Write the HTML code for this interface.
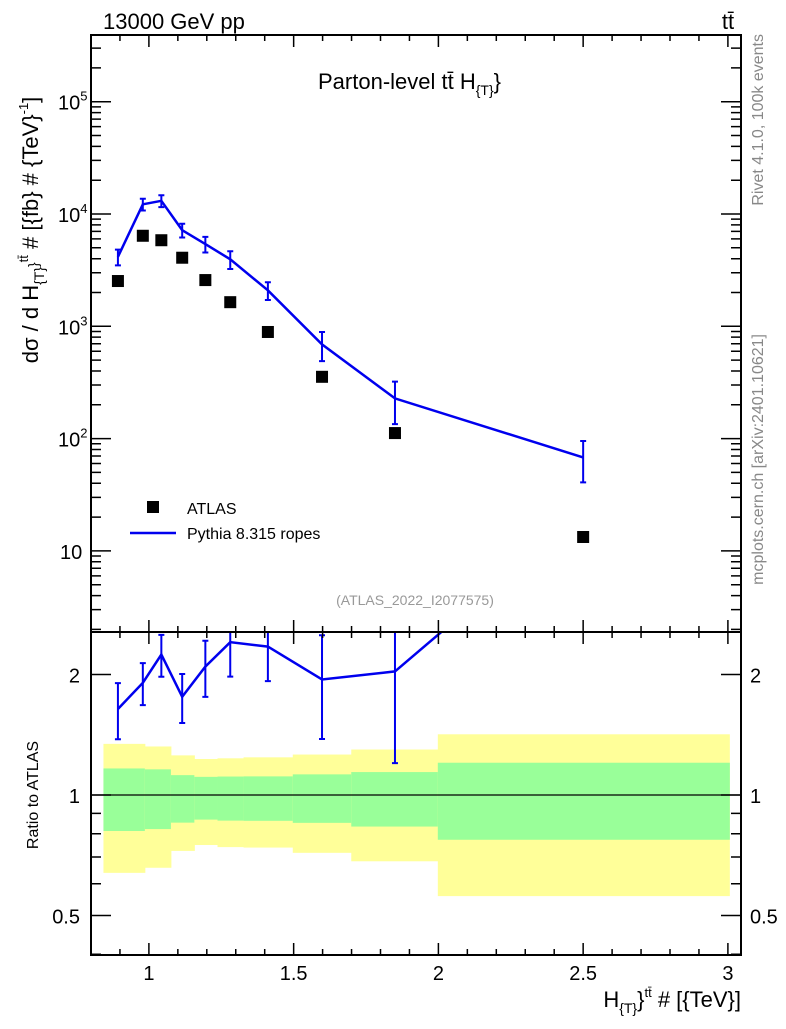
<!DOCTYPE html>
<html><head><meta charset="utf-8"><style>
html,body{margin:0;padding:0;background:#fff;}
svg text{font-family:"Liberation Sans",sans-serif;}
</style></head><body>
<svg id="c" width="786" height="1024" viewBox="0 0 786 1024" xmlns="http://www.w3.org/2000/svg"></svg>
<script>
// ---- data ----
const xPts = [0.893,0.979,1.043,1.115,1.195,1.281,1.411,1.598,1.85,2.5];
const atlasVals = [2530,6400,5840,4080,2580,1640,890,355,112,13.3];
const pythiaVals = [4150,12200,13100,7180,5400,3950,2090,690,228,68];
const pythiaRelErr = [0.16,0.12,0.12,0.14,0.16,0.18,0.18,0.29,0.41,0.40];
const bandEdges = [0.843,0.986,1.076,1.157,1.237,1.327,1.497,1.699,1.998,3.005];
const yellowUp = [1.342,1.322,1.256,1.23,1.235,1.242,1.262,1.299,1.418];
const greenUp = [1.165,1.159,1.121,1.11,1.112,1.113,1.126,1.141,1.204];
const greenLo = [0.813,0.822,0.853,0.868,0.863,0.862,0.852,0.834,0.773];
const yellowLo = [0.639,0.658,0.725,0.75,0.741,0.739,0.717,0.683,0.559];
const xTickLabels = ["1","1.5","2","2.5","3"];
const xTickVals = [1,1.5,2,2.5,3];

// ---- geometry ----
const L=91,R=741,T=35,M=632,B=955;
const X=v=>L+(v-0.8)*289.5;
const Y=v=>214-(Math.log10(v)-4)*112.3;
const RY=v=>795-Math.log2(v)*120.5;
const svg=document.getElementById('c');
const NS='http://www.w3.org/2000/svg';
function mk(tag,attrs,parent){const e=document.createElementNS(NS,tag);for(const k in attrs)e.setAttribute(k,attrs[k]);(parent||svg).appendChild(e);return e;}

const defs=mk('defs',{});
const c1=mk('clipPath',{id:'cm'},defs);mk('rect',{x:L,y:T,width:R-L,height:M-T},c1);
const c2=mk('clipPath',{id:'cr'},defs);mk('rect',{x:L,y:M,width:R-L,height:B-M},c2);

const gb=mk('g',{'clip-path':'url(#cr)'});

for(let i=0;i<yellowUp.length;i++){
  const x0=X(bandEdges[i]),x1=X(bandEdges[i+1]);
  const y=mk('rect',{x:x0,y:RY(yellowUp[i]),width:x1-x0+0.5,height:RY(yellowLo[i])-RY(yellowUp[i]),fill:'#ffff99'},gb);
  
  const g=mk('rect',{x:x0,y:RY(greenUp[i]),width:x1-x0+0.5,height:RY(greenLo[i])-RY(greenUp[i]),fill:'#99ff99'},gb);
  
}
const one=mk('line',{x1:L,x2:R,y1:RY(1),y2:RY(1),stroke:'#000','stroke-width':1.2});


const gm=mk('g',{'clip-path':'url(#cm)'});

let pts=xPts.map((x,i)=>X(x)+','+Y(pythiaVals[i])).join(' ');
const pl=mk('polyline',{points:pts,fill:'none',stroke:'#0000ee','stroke-width':2.5},gm);

xPts.forEach((x,i)=>{
  const v=pythiaVals[i],e=pythiaRelErr[i],cx=X(x);
  const y1=Y(v*(1+e)),y2=Y(v*(1-e));
  const eb=mk('path',{d:`M${cx},${y1}V${y2}M${cx-3},${y1}H${cx+3}M${cx-3},${y2}H${cx+3}`,stroke:'#0000ee','stroke-width':2,fill:'none'},gm);
  
  const s=mk('rect',{x:cx-6,y:Y(atlasVals[i])-6,width:12,height:12,fill:'#000'},gm);
  
});

const gr=mk('g',{'clip-path':'url(#cr)'});

pts=xPts.map((x,i)=>X(x)+','+RY(pythiaVals[i]/atlasVals[i])).join(' ');
const rl=mk('polyline',{points:pts,fill:'none',stroke:'#0000ee','stroke-width':2.5},gr);

xPts.forEach((x,i)=>{
  const r=pythiaVals[i]/atlasVals[i],e=pythiaRelErr[i],cx=X(x);
  const y1=RY(r*(1+e)),y2=RY(r*(1-e));
  const eb=mk('path',{d:`M${cx},${y1}V${y2}M${cx-3},${y1}H${cx+3}M${cx-3},${y2}H${cx+3}`,stroke:'#0000ee','stroke-width':2,fill:'none'},gr);
  
});

const f1=mk('rect',{x:L,y:T,width:R-L,height:M-T,fill:'none',stroke:'#000','stroke-width':2});

const f2=mk('rect',{x:L,y:M,width:R-L,height:B-M,fill:'none',stroke:'#000','stroke-width':2});


let d='';
for(let v=0.8;v<=3.04;v+=0.1){const vv=Math.round(v*10)/10;const x=X(vv);const maj=Math.abs(vv*2-Math.round(vv*2))<1e-6;const l=maj?12:6;
  d+=`M${x},${T}v${l}M${x},${M}v-${l}M${x},${M}v${l}M${x},${B}v-${l}`;}
for(let e=0;e<6;e++)for(let k=1;k<10;k++){const v=k*Math.pow(10,e);const y=Y(v);if(y<T||y>M)continue;const l=k==1?20:10;d+=`M${L},${y}h${l}M${R},${y}h-${l}`;}
for(let e=-2;e<1;e++)for(let k=1;k<10;k++){const v=k*Math.pow(10,e);const y=RY(v);if(y<M||y>B)continue;const l=(v==1||v==0.5||v==2)?20:10;const l2=(k==1)?20:l;d+=`M${L},${y}h${l2}M${R},${y}h-${l2}`;}
const tk=mk('path',{d:d,stroke:'#000','stroke-width':1.5,fill:'none'});


function txt(s,attrs,name){const t=mk('text',attrs);t.innerHTML=s;return t;}
xTickVals.forEach((v,i)=>txt(xTickLabels[i],{x:X(v),y:980,'font-size':20,'text-anchor':'middle'},'x-tick-label'));
[[5,'10<tspan font-size="13" dy="-9">5</tspan>'],[4,'10<tspan font-size="13" dy="-9">4</tspan>'],[3,'10<tspan font-size="13" dy="-9">3</tspan>'],[2,'10<tspan font-size="13" dy="-9">2</tspan>']].forEach(a=>txt(a[1],{x:58,y:Y(Math.pow(10,a[0]))+8,'font-size':20},'y-tick-label'));
txt('10',{x:60,y:Y(10)+8,'font-size':20},'y-tick-label');
[[2,'2'],[1,'1'],[0.5,'0.5']].forEach(a=>{txt(a[1],{x:80,y:RY(a[0])+8,'font-size':20,'text-anchor':'end'},'ratio-tick-label');txt(a[1],{x:750,y:RY(a[0])+8,'font-size':20},'ratio-tick-label-right');});

txt('13000 GeV pp',{x:103,y:29,'font-size':22},'energy-label');
txt('tt̄',{x:728,y:29,'font-size':22,'text-anchor':'middle'},'process-label');
txt('Parton-level tt̄  H<tspan font-size="14" dy="6">{T}</tspan><tspan dy="-6">}</tspan>',{x:318,y:89,'font-size':22},'plot-title');
txt('(ATLAS_2022_I2077575)',{x:415,y:605,'font-size':14,fill:'#999','text-anchor':'middle'},'analysis-id');
const lg=mk('rect',{x:147,y:501,width:12,height:12,fill:'#000'});
txt('ATLAS',{x:187,y:514,'font-size':16},'legend-atlas');
const ll=mk('line',{x1:130,x2:176,y1:533,y2:533,stroke:'#0000ee','stroke-width':2.5});
txt('Pythia 8.315 ropes',{x:187,y:539,'font-size':16},'legend-pythia');
txt('Rivet 4.1.0,  100k events',{x:0,y:0,'font-size':16,fill:'#888','text-anchor':'end',transform:'translate(763,34) rotate(-90)'},'rivet-label');
txt('mcplots.cern.ch [arXiv:2401.10621]',{x:0,y:0,'font-size':16,fill:'#888','text-anchor':'end',transform:'translate(763,334) rotate(-90)'},'mcplots-label');
txt('dσ / d H<tspan font-size="14" dy="6">{T}</tspan><tspan font-size="14" dy="-6">}</tspan><tspan font-size="13" dy="-10">tt̄</tspan><tspan dy="10"> # [{fb} # {TeV}</tspan><tspan font-size="13" dy="-10">-1</tspan><tspan dy="10">]</tspan>',{x:0,y:0,'font-size':22,'text-anchor':'middle',transform:'translate(38,230) rotate(-90)'},'y-axis-title');
txt('Ratio to ATLAS',{x:0,y:0,'font-size':16,'text-anchor':'middle',transform:'translate(38,795) rotate(-90)'},'ratio-axis-title');
txt('H<tspan font-size="14" dy="6">{T}</tspan><tspan dy="-6">}</tspan><tspan font-size="13" dy="-10">tt̄</tspan><tspan dy="10"> # [{TeV}]</tspan>',{x:741,y:1007,'font-size':22,'text-anchor':'end'},'x-axis-title');
</script>
</body></html>
